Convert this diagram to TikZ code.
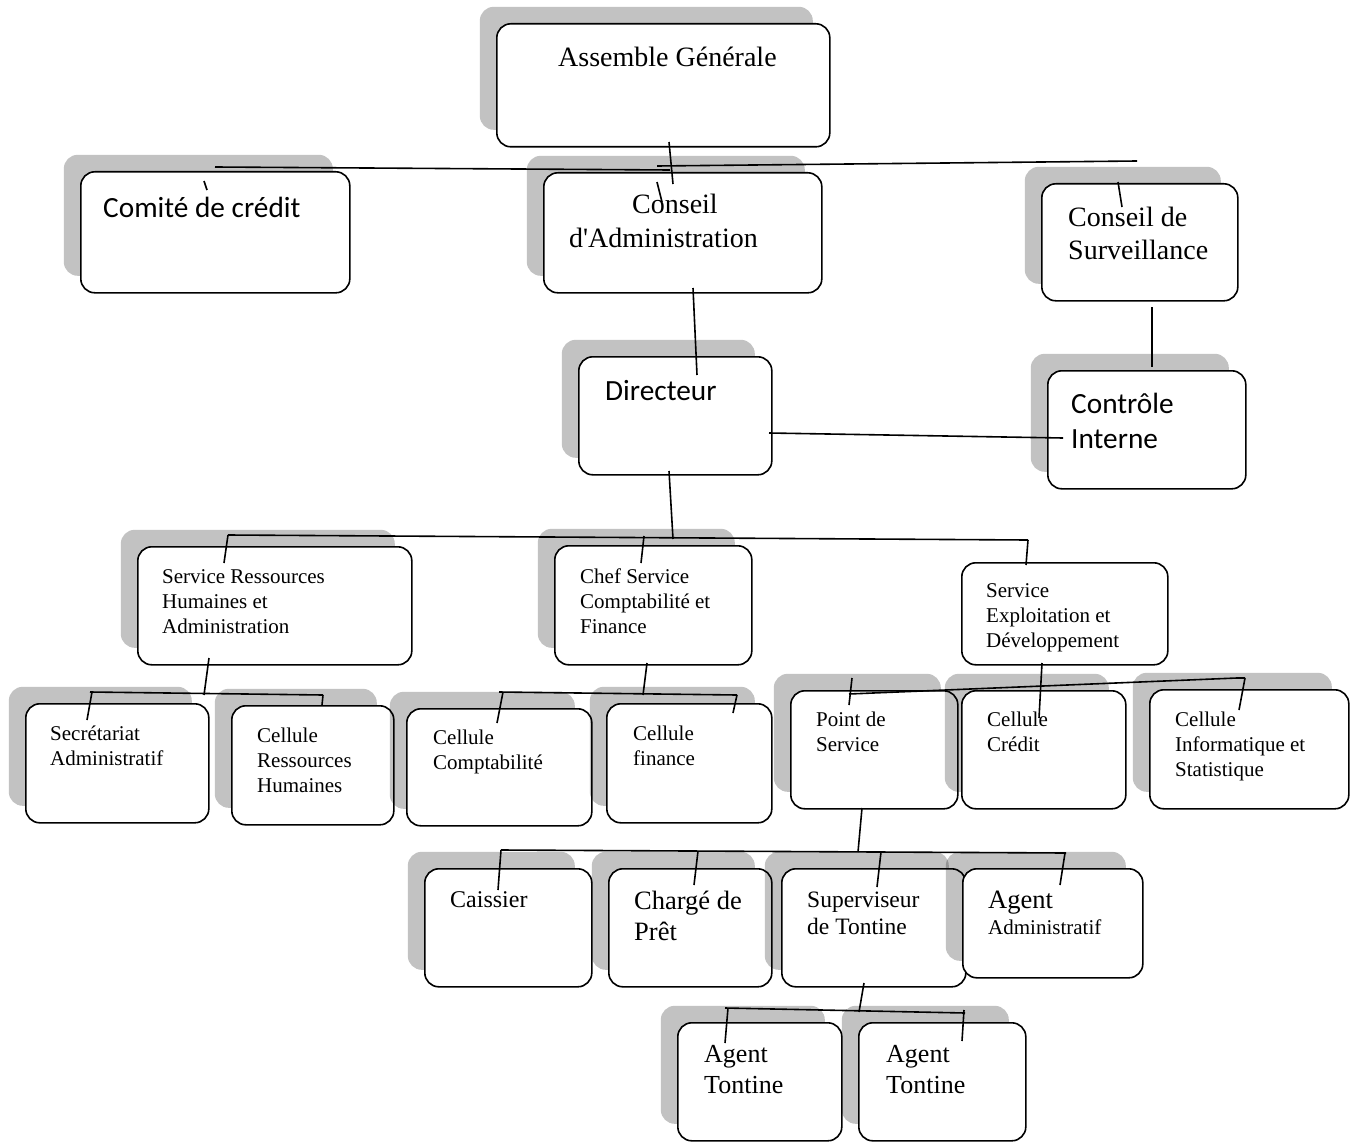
\documentclass[tikz,border=0pt]{standalone}
\usepackage{fontspec}
\setmainfont{Liberation Serif}
\newfontfamily\calib{Carlito}
\usetikzlibrary{shadows}
\begin{document}
\begin{tikzpicture}[x=1pt,y=-1pt,
  bx/.style 2 args={draw, line width=1.6pt, rounded corners=14pt, fill=white, inner sep=0pt,
     anchor=north west, minimum width=#1pt, minimum height=#2pt},
  sh/.style={general shadow={fill=black, fill opacity=0.24, shadow xshift=-17pt, shadow yshift=17pt}},
  ln/.style={line width=1.6pt},
  tx/.style={anchor=base west, inner sep=0pt, align=left},
  tA/.style={tx, font=\fontsize{28}{33}\selectfont},
  tC/.style={tx, font=\calib\fontsize{29.3}{35}\selectfont},
  tS/.style={tx, font=\fontsize{21}{25}\selectfont}]
\useasboundingbox (0,0) rectangle (1359,1142);
% boxes
\node[bx={333}{123}, sh] (ag) at (496,23) {};
\node[bx={269}{121}, sh] (cc) at (80,171) {};
\node[bx={278}{120}, sh] (ca) at (543,172) {};
\node[bx={196}{117}, sh] (cs) at (1041,183) {};
\node[bx={193}{118}, sh] (dir) at (578,356) {};
\node[bx={198}{118}, sh] (ci) at (1047,370) {};
\node[bx={274}{118}, sh] (srha) at (137,546) {};
\node[bx={197}{119}, sh] (chef) at (554,545) {};
\node[bx={206}{102}] (sed) at (961,562) {};
\node[bx={183}{119}, sh] (sec) at (25,703) {};
\node[bx={162}{119}, sh] (crh) at (231,705) {};
\node[bx={185}{117}, sh] (ccpt) at (406,708) {};
\node[bx={165}{119}, sh] (cfin) at (606,703) {};
\node[bx={167}{118}, sh] (ps) at (790,690) {};
\node[bx={164}{118}, sh] (ccr) at (961,690) {};
\node[bx={199}{119}, sh] (cis) at (1149,689) {};
\node[bx={167}{118}, sh] (cai) at (424,868) {};
\node[bx={163}{118}, sh] (cp) at (608,868) {};
\node[bx={184}{118}, sh] (sup) at (781,868) {};
\node[bx={180}{109}, sh] (aad) at (962,868) {};
\node[bx={164}{118}, sh] (at1) at (677,1022) {};
\node[bx={167}{118}, sh] (at2) at (858,1022) {};
% texts (base = baseline of the last line)
\node[tA] (tag) at (558,67) {Assemble Générale};
\node[tC] (tcc) at (103,217) {Comité de crédit};
\node[tA] (tca) at (569,247) {\hspace*{63pt}Conseil\\d\textquotesingle Administration};
\node[tA] (tcs) at (1068,259) {Conseil de\\Surveillance};
\node[tC] (tdir) at (605,400) {Directeur};
\node[tC] (tci) at (1071,448) {Contrôle\\Interne};
\node[tS] (tsrha) at (162,633) {Service Ressources\\Humaines et\\Administration};
\node[tS] (tchef) at (580,633) {Chef Service\\Comptabilité et\\Finance};
\node[tS] (tsed) at (986,647) {Service\\Exploitation et\\Développement};
\node[tS] (tsec) at (50,765) {Secrétariat\\Administratif};
\node[tS] (tcrh) at (257,792) {Cellule\\Ressources\\Humaines};
\node[tS] (tccpt) at (433,769) {Cellule\\Comptabilité};
\node[tS] (tcfin) at (633,765) {Cellule\\finance};
\node[tS] (tps) at (816,751) {Point de\\Service};
\node[tS] (tccr) at (987,751) {Cellule\\Crédit};
\node[tS] (tcis) at (1175,776) {Cellule\\Informatique et\\Statistique};
\node[tx, font=\fontsize{24}{28}\selectfont] (tcai) at (450,907) {Caissier};
\node[tx, font=\fontsize{26.5}{31}\selectfont] (tcp) at (634,940) {Chargé de\\Prêt};
\node[tx, font=\fontsize{23.5}{27}\selectfont] (tsup) at (807,934) {Superviseur\\de Tontine};
\node[tx, font=\fontsize{26.5}{31}\selectfont] (taad1) at (988,908) {Agent};
\node[tS] (taad2) at (988,934) {Administratif};
\node[tx, font=\fontsize{26}{31}\selectfont] (tat1) at (704,1093) {Agent\\Tontine};
\node[tx, font=\fontsize{26}{31}\selectfont] (tat2) at (886,1093) {Agent\\Tontine};
% connector points
\coordinate (p1) at (669,142); \coordinate (p2) at (673,184);
\coordinate (p3) at (215,167); \coordinate (p4) at (670,170);
\coordinate (p5) at (657,166); \coordinate (p6) at (1137,161);
\coordinate (p7) at (204,181); \coordinate (p8) at (207,190);
\coordinate (p9) at (657,182); \coordinate (p10) at (662,202);
\coordinate (p11) at (1118,182); \coordinate (p12) at (1122,207);
\coordinate (p13) at (1152,307); \coordinate (p14) at (1152,367);
\coordinate (p15) at (693,288); \coordinate (p16) at (697,375);
\coordinate (p17) at (769,433); \coordinate (p18) at (1063,438);
\coordinate (p19) at (669,471); \coordinate (p20) at (673,539);
\coordinate (p21) at (228,535); \coordinate (p22) at (1028,540);
\coordinate (p23) at (224,563);
\coordinate (p24) at (644,536); \coordinate (p25) at (641,563);
\coordinate (p26) at (1026,565);
\coordinate (p27) at (209,658); \coordinate (p28) at (204,695);
\coordinate (p29) at (90,692); \coordinate (p30) at (323,695);
\coordinate (p31) at (92,692); \coordinate (p32) at (87,720);
\coordinate (p33) at (322,705);
\coordinate (p34) at (647,663); \coordinate (p35) at (643,695);
\coordinate (p36) at (499,692); \coordinate (p37) at (737,695);
\coordinate (p38) at (503,692); \coordinate (p39) at (497,723);
\coordinate (p40) at (733,713);
\coordinate (p41) at (1042,663); \coordinate (p42) at (1039,718);
\coordinate (p43) at (849,694); \coordinate (p44) at (1237,678); \coordinate (p45) at (1245,678);
\coordinate (p46) at (1239,710);
\coordinate (p47) at (852,678); \coordinate (p48) at (849,705);
\coordinate (p49) at (862,808); \coordinate (p50) at (858,852);
\coordinate (p51) at (501,850); \coordinate (p52) at (1066,853);
\coordinate (p53) at (498,890);
\coordinate (p54) at (698,851); \coordinate (p55) at (694,885);
\coordinate (p56) at (881,852); \coordinate (p57) at (877,887);
\coordinate (p58) at (1065,853); \coordinate (p59) at (1060,885);
\coordinate (p60) at (864,983); \coordinate (p61) at (859,1012);
\coordinate (p62) at (725,1008); \coordinate (p63) at (965,1013);
\coordinate (p64) at (728,1008); \coordinate (p65) at (725,1043);
\coordinate (p66) at (964,1010); \coordinate (p67) at (962,1041);
% connectors
\draw[ln] (p1) -- (p2);
\draw[ln] (p3) -- (p4);
\draw[ln] (p5) -- (p6);
\draw[ln] (p7) -- (p8);
\draw[ln] (p9) -- (p10);
\draw[ln] (p11) -- (p12);
\draw[ln] (p13) -- (p14);
\draw[ln] (p15) -- (p16);
\draw[ln] (p17) -- (p18);
\draw[ln] (p19) -- (p20);
\draw[ln] (p21) -- (p22);
\draw[ln] (p21) -- (p23);
\draw[ln] (p24) -- (p25);
\draw[ln] (p22) -- (p26);
\draw[ln] (p27) -- (p28);
\draw[ln] (p29) -- (p30);
\draw[ln] (p31) -- (p32);
\draw[ln] (p30) -- (p33);
\draw[ln] (p34) -- (p35);
\draw[ln] (p36) -- (p37);
\draw[ln] (p38) -- (p39);
\draw[ln] (p37) -- (p40);
\draw[ln] (p41) -- (p42);
\draw[ln] (p43) -- (p44) -- (p45);
\draw[ln] (p45) -- (p46);
\draw[ln] (p47) -- (p48);
\draw[ln] (p49) -- (p50);
\draw[ln] (p51) -- (p52);
\draw[ln] (p51) -- (p53);
\draw[ln] (p54) -- (p55);
\draw[ln] (p56) -- (p57);
\draw[ln] (p58) -- (p59);
\draw[ln] (p60) -- (p61);
\draw[ln] (p62) -- (p63);
\draw[ln] (p64) -- (p65);
\draw[ln] (p66) -- (p67);
\end{tikzpicture}
\end{document}
